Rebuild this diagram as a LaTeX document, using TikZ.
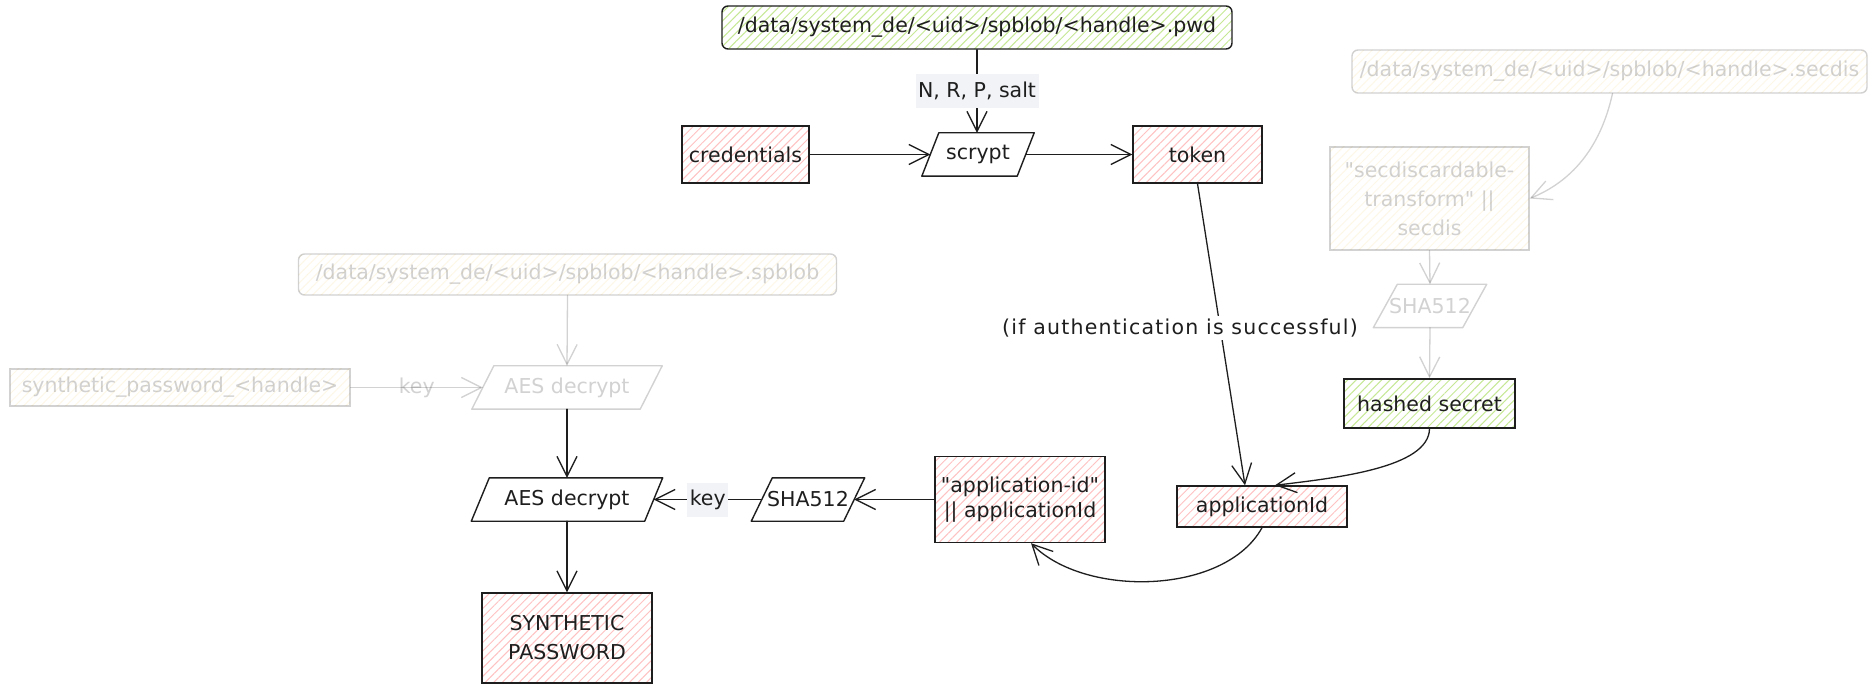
\documentclass[tikz,border=0pt]{standalone}
\usepackage{fontspec}
\setmainfont{DejaVu Sans}
\newfontfamily\plainquotefont{DejaVu Sans}
\usetikzlibrary{arrows.meta,patterns.meta}

\definecolor{ink}{HTML}{1E1E1E}
\definecolor{hatchred}{HTML}{FFC2C2}
\definecolor{hatchgreen}{HTML}{C6E895}
\definecolor{hatchyellow}{HTML}{F5D98A}
\definecolor{lblbg}{HTML}{F1F3F6}

% straight double quote, set without the TeX ligature mapping
\newcommand\sq{{\plainquotefont\char34}}

% slanted (parallelogram) outline around a named node: #2 node, #3 half slant
\newcommand\slantframe[3][]{%
  \draw[draw=ink, line width=1.4pt, line join=round, #1]
    ([xshift=#3]#2.north west) -- ([xshift=#3]#2.north east) --
    ([xshift=-#3]#2.south east) -- ([xshift=-#3]#2.south west) -- cycle;}

\begin{document}
\begin{tikzpicture}[x=1pt, y=-1pt,
  font=\fontsize{20.5}{25}\selectfont,
  box/.style={draw=ink, line width=1.4pt, text=ink, inner sep=2pt, align=center},
  redfill/.style={pattern={Lines[angle=45,distance=6pt,line width=1pt]}, pattern color=hatchred},
  greenfill/.style={pattern={Lines[angle=45,distance=6pt,line width=1pt]}, pattern color=hatchgreen},
  yellowfill/.style={pattern={Lines[angle=45,distance=6pt,line width=1pt]}, pattern color=hatchyellow},
  para/.style={inner sep=0pt, minimum height=43pt, text=ink},
  lbl/.style={fill=lblbg, text=ink, inner xsep=2.5pt, inner ysep=0pt, minimum height=34pt},
  faint/.style={opacity=0.2},
  arr/.style={draw=ink, line width=1.3pt, line cap=round,
              -{Straight Barb[length=20pt,width=20pt]}},
]
\fill[white] (0,0) rectangle (1872,684);
\useasboundingbox (0,0) rectangle (1872,684);

% ---- secdis branch (greyed out) ----
\node[box, yellowfill, faint, rounded corners=6pt, minimum width=515pt, minimum height=43pt]
  (secdis) at (1609.5,71.5) {/data/system\_de/<uid>/spblob/<handle>.secdis};
\node[box, yellowfill, faint, minimum width=199pt, minimum height=103pt,
  font=\fontsize{20.5}{29}\selectfont]
  (sdt) at (1429.5,198.5) {\sq secdiscardable-\\transform\sq\ ||\\secdis};
\node[para, faint, minimum width=89pt] (sha2) at (1430,306) {SHA512};
\slantframe[opacity=0.2]{sha2}{12pt}

% ---- spblob branch (greyed out) ----
\node[box, yellowfill, faint, rounded corners=6pt, minimum width=538pt, minimum height=41pt]
  (spblob) at (567.5,274.5) {/data/system\_de/<uid>/spblob/<handle>.spblob};
\node[para, faint, minimum width=168pt] (aes1) at (567,387.5) {AES decrypt};
\slantframe[opacity=0.2]{aes1}{11pt}
\node[box, yellowfill, faint, minimum width=340pt, minimum height=37pt]
  (spkey) at (180,387.5) {synthetic\_password\_<handle>};

% ---- scrypt stage ----
\node[box, greenfill, rounded corners=6pt, minimum width=510pt, minimum height=43pt]
  (pwd) at (977,27.5) {/data/system\_de/<uid>/spblob/<handle>.pwd};
\node[para, minimum width=95pt] (scr) at (978,154.5) {scrypt};
\slantframe{scr}{8.5pt}
\node[box, redfill, minimum width=127pt, minimum height=57pt] (cred) at (745.5,154.5) {credentials};
\node[box, redfill, minimum width=129pt, minimum height=57pt] (tok) at (1197.5,154.5) {token};

% ---- application id stage ----
\node[box, greenfill, minimum width=171pt, minimum height=49pt] (hs) at (1429.5,403.5) {hashed secret};
\node[box, redfill, minimum width=170pt, minimum height=41pt] (aid) at (1262,506.5) {applicationId};
\node[box, redfill, minimum width=170pt, minimum height=86pt] (aidc) at (1020,499.5)
  {\sq application-id\sq\\|| applicationId};
\node[para, minimum width=92pt] (sha1) at (808,499.5) {SHA512};
\slantframe{sha1}{10.5pt}
\node[para, minimum width=173pt] (aes2) at (567,499.5) {AES decrypt};
\slantframe{aes2}{9pt}
\node[box, redfill, minimum width=170pt, minimum height=90pt,
  font=\fontsize{20.5}{29}\selectfont] (spw) at (567,638) {SYNTHETIC\\PASSWORD};

% ---- connectors, greyed out ----
\draw[arr, faint] ([xshift=3pt]secdis.south) .. controls (1600,150) and (1570,182) .. (sdt.east);
\draw[arr, faint] (sdt.south) -- (sha2.north);
\draw[arr, faint] (sha2.south) -- (hs.north);
\draw[arr, faint] (spblob.south) -- (aes1.north);
\draw[arr, faint] (spkey.east) -- node[faint, text=ink] (k1) {key} (aes1.west);

% ---- connectors ----
\draw[arr] (pwd.south) -- node[lbl] (nrp) {N, R, P, salt} (pwd.south |- scr.north);
\draw[arr] (cred.east) -- (scr.west);
\draw[arr] (scr.east) -- (tok.west);
\draw[arr] (tok.south) -- ([xshift=-17pt]aid.north);
\node[fill=white, text=ink, inner sep=3pt] (cond) at (1180,328)
  {\addfontfeature{LetterSpace=6}(if authentication is successful)};
\draw[arr] (hs.south) .. controls (1429,468) and (1335,478) .. ([xshift=13pt]aid.north);
\draw[arr] (aid.south) .. controls (1225,595) and (1085,598) .. ([xshift=11pt]aidc.south);
\draw[arr] (aidc.west) -- (sha1.east);
\draw[arr] (sha1.west) -- node[lbl] (k2) {key} (aes2.east);
\draw[arr] (aes1.south) -- (aes2.north);
\draw[arr] (aes2.south) -- (spw.north);
\end{tikzpicture}
\end{document}
